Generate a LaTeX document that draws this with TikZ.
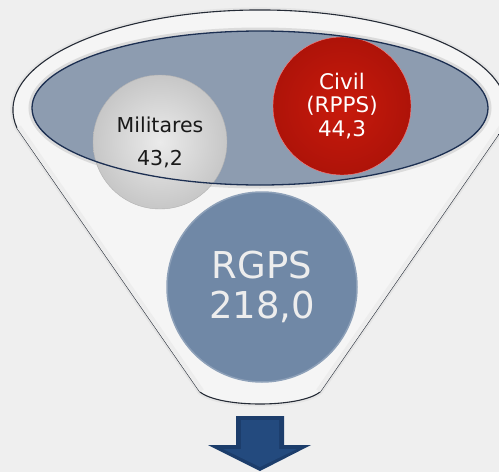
\documentclass[tikz,border=0pt]{standalone}
\usepackage{fontspec}
\setmainfont{DejaVu Sans}
\usepackage{xcolor}
\usepackage{tikz}

\definecolor{fundo}{HTML}{EFEFEF}
\definecolor{corpo}{HTML}{F5F5F5}
\definecolor{contorno}{HTML}{252B36}
\definecolor{elipse}{HTML}{8D9CB0}
\definecolor{elipseborda}{HTML}{1C2F52}
\definecolor{vermelho}{HTML}{C81A0C}
\definecolor{vermelhoesc}{HTML}{AE1309}
\definecolor{azulrgps}{HTML}{7088A6}
\definecolor{azulseta}{HTML}{1C3D6B}
\definecolor{azulface}{HTML}{234A7E}

\begin{document}
\begin{tikzpicture}[x=1pt, y=-1pt,
    bola/.style={circle, inner sep=0pt, align=center},
    funil/.style={fill=corpo, draw=contorno, line width=1.1pt}]
    % fundo
    \useasboundingbox (0,0) rectangle (499,472);
    \fill[fundo] (0,0) rectangle (499,472);
    \clip (0,0) rectangle (499,472);

    % funil
    \draw[black!10, line width=5pt] (17,128) arc[start angle=169.6, end angle=370.4, x radius=247, y radius=100]
        -- (320,392) .. controls (300,408) and (220,408) .. (200,392) -- cycle;
    \draw[funil] (17,128) arc[start angle=169.6, end angle=370.4, x radius=247, y radius=100]
        -- (320,392) .. controls (300,408) and (220,408) .. (200,392) -- cycle;
    \begin{scope}
        \clip (17,128) arc[start angle=169.6, end angle=370.4, x radius=247, y radius=100]
            -- (320,392) .. controls (300,408) and (220,408) .. (200,392) -- cycle;
        \draw[black!7, line width=9pt] (17,128) -- (200,392) (503,128) -- (320,392);
    \end{scope}

    % elipse interna
    \draw[black!14, line width=5pt] (260,108) ellipse[x radius=229, y radius=78];
    \fill[elipse] (260,108) ellipse[x radius=228, y radius=77];

    % bolas
    \node[bola, minimum size=134pt, inner color=black!8, outer color=black!22, draw=black!30,
          font=\fontsize{20.5}{33}\selectfont, text=black!90] (mil) at (160,142) {Militares\\43,2};
    \node[bola, minimum size=138pt, inner color=vermelho, outer color=vermelhoesc, draw=red!50!white,
          font=\fontsize{21.5}{23.5}\selectfont, text=white] (civil) at (342,106) {Civil\\(RPPS)\\44,3};
    \node[bola, minimum size=190pt, fill=azulrgps, draw=azulrgps!80!white, line width=1.5pt,
          font=\fontsize{37}{40}\selectfont, text=white!93!black] (rgps) at (262,287) {RGPS\\218,0};

    % contorno da elipse por cima
    \draw[elipseborda, line width=1.3pt] (260,108) ellipse[x radius=228, y radius=77];

    % seta
    \fill[azulseta] (236,416) -- (284,416) -- (284,445) -- (311,445) -- (260,471)
        -- (208,445) -- (236,445) -- cycle;
    \fill[azulface] (241,420) -- (279,420) -- (279,449) -- (297,449) -- (260,467)
        -- (223,449) -- (241,449) -- cycle;
\end{tikzpicture}
\end{document}
